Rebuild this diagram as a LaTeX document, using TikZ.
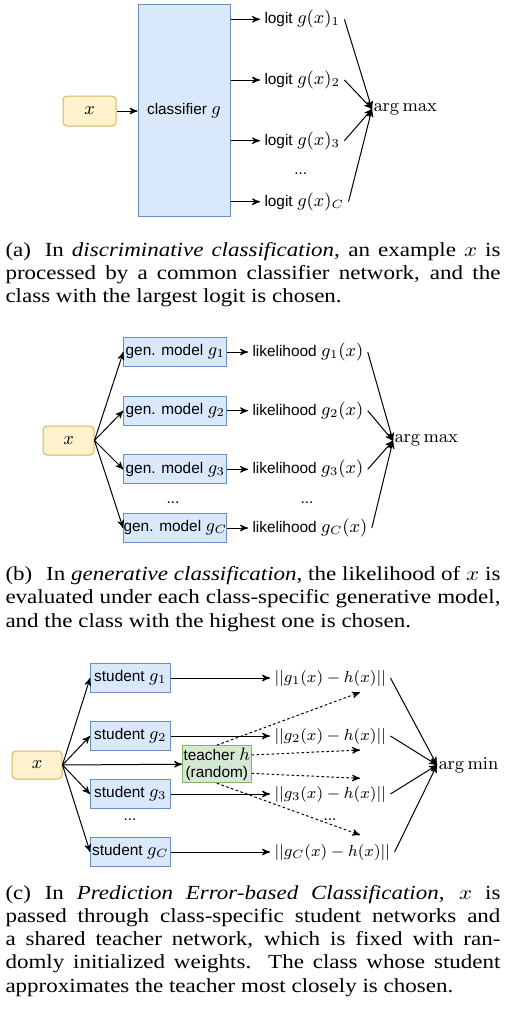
\documentclass[tikz,border=0pt]{standalone}
\usepackage[no-math]{fontspec}
\setmainfont{Liberation Serif}
\setsansfont{Liberation Sans}
\usepackage{amsmath}
\usepackage{graphicx}
\usetikzlibrary{arrows,positioning}

\definecolor{inyellow}{HTML}{FFF2CC}
\definecolor{inyellowline}{HTML}{D6B656}
\definecolor{netblue}{HTML}{DAE8FC}
\definecolor{netblueline}{HTML}{6C8EBF}
\definecolor{teachgreen}{HTML}{D5E8D4}
\definecolor{teachgreenline}{HTML}{82B366}

\newcommand{\lbl}[1]{{\fontsize{7.7}{9}\selectfont\sffamily #1}}
\newcommand{\captext}[1]{\scalebox{1.15}[1]{\parbox[t]{215.2pt}{\fontsize{10}{11.65}\selectfont #1}}}

\begin{document}
\begin{tikzpicture}[x=0.5pt,y=-0.5pt,->,>=stealth',line width=0.5pt,font=\fontsize{9}{10}\selectfont]
		\tikzstyle{input}=[draw=inyellowline,fill=inyellow,rounded corners=2pt,inner sep=0pt]
		\tikzstyle{model}=[draw=netblueline,fill=netblue,inner sep=0pt]
		\tikzstyle{outlbl}=[anchor=west,inner sep=2pt]
		\tikzstyle{pick}=[anchor=west,inner sep=0.5pt,font=\fontsize{9.5}{11}\selectfont]
		\tikzstyle{hint}=[dash pattern=on 1.3pt off 1.2pt]
		\tikzstyle{caption}=[anchor=base west,inner sep=0pt]
		\useasboundingbox (0,0) rectangle (507,1009);

		% (a) discriminative
		\node[input,minimum width=26.5pt,minimum height=15pt] (xa) at (89.5,111) {$x$};
		\node[model,minimum width=46pt,minimum height=106pt] (clf) at (184,110.5) {\lbl{classifier} $g$};
		\node[pick] (amaxa) at (372,109) {$\arg\max$};
		\draw (xa.east) -- (xa.east -| clf.west);
		\foreach \i/\y in {1/19.3,2/80,3/140.7,C/201.7} {
			\node[outlbl] (lg\i) at (260,\y) {\lbl{logit} $g(x)_{\i}$};
			\draw (clf.east |- lg\i) -- (lg\i.west);
			\draw (lg\i.east) -- (amaxa.west);
		}
		\node[inner sep=0pt] (dotsa) at (300.7,174) {\lbl{...}};
		\node[caption] (capa) at (5,256) {\captext{(a)\hspace{0.6em}In \emph{discriminative classification}, an example $x$ is\linebreak
			processed by a common classifier network, and the\linebreak
			class with the largest logit is chosen.}};

		% (b) generative
		\node[input,minimum width=25.5pt,minimum height=14.5pt] (xb) at (68.5,440.5) {$x$};
		\node[pick] (amaxb) at (393,440.7) {$\arg\max$};
		\foreach \i/\y in {1/352,2/410.7,3/469.3,C/528} {
			\node[model,minimum width=51.5pt,minimum height=14.5pt] (gm\i) at (175.3,\y) {\lbl{gen. model} $g_{\i}$};
			\node[outlbl] (lk\i) at (248,\y) {\lbl{likelihood} $g_{\i}(x)$};
			\draw (xb.east) -- (gm\i.west);
			\draw (gm\i) -- (lk\i);
			\draw (lk\i.east) -- (amaxb.west);
		}
		\node[inner sep=0pt] (dotsb1) at (173,503) {\lbl{...}};
		\node[inner sep=0pt] (dotsb2) at (307,503) {\lbl{...}};
		\node[caption] (capb) at (5,580.5) {\captext{(b)\hspace{0.6em}In \emph{generative classification}, the likelihood of $x$ is\linebreak
			evaluated under each class-specific generative model,\linebreak
			and the class with the highest one is chosen.}};

		% (c) prediction error
		\node[input,minimum width=25pt,minimum height=14pt] (xc) at (37,765) {$x$};
		\node[pick] (amin) at (437,765) {$\arg\min$};
		\node[draw=teachgreenline,fill=teachgreen,inner sep=0.5pt,minimum width=32.5pt,minimum height=18.5pt,align=center] (teach) at (216.8,764.2) {\lbl{teacher} $h$\\[-1.8pt]\lbl{(random)}};
		\draw (xc.east) -- (teach.west);
		\foreach \i/\y in {1/678,2/736,3/794,C/852} {
			\node[model,minimum width=39.7pt,minimum height=14.3pt] (st\i) at (130.3,\y) {\lbl{student} $g_{\i}$};
			\node[outlbl,font=\fontsize{8.3}{10}\selectfont] (nm\i) at (270,\y) {$||g_{\i}(x)-h(x)||$};
			\draw (xc.east) -- (st\i.west);
			\draw (st\i) -- (nm\i);
			\draw (nm\i.east) -- (amin.west);
		}
		\coordinate (t1) at (360,692.3);
		\coordinate (t2) at (360,750);
		\coordinate (t3) at (360,778.3);
		\coordinate (tC) at (360,835);
		\draw[hint] (teach.north) -- (t1);
		\draw[hint] ([yshift=4.6pt]teach.east) -- (t2);
		\draw[hint] ([yshift=-4.6pt]teach.east) -- (t3);
		\draw[hint] (teach.south) -- (tC);
		\node[inner sep=0pt] (dotsc1) at (130,820) {\lbl{...}};
		\node[inner sep=0pt] (dotsc2) at (330,820) {\lbl{...}};
		\node[caption] (capc) at (5,899) {\captext{(c)\hspace{0.6em}In \emph{Prediction Error-based Classification}, $x$ is\linebreak
			passed through class-specific student networks and\linebreak
			a shared teacher network, which is fixed with ran-\linebreak
			domly initialized weights. The class whose student\linebreak
			approximates the teacher most closely is chosen.}};
\end{tikzpicture}
\end{document}
